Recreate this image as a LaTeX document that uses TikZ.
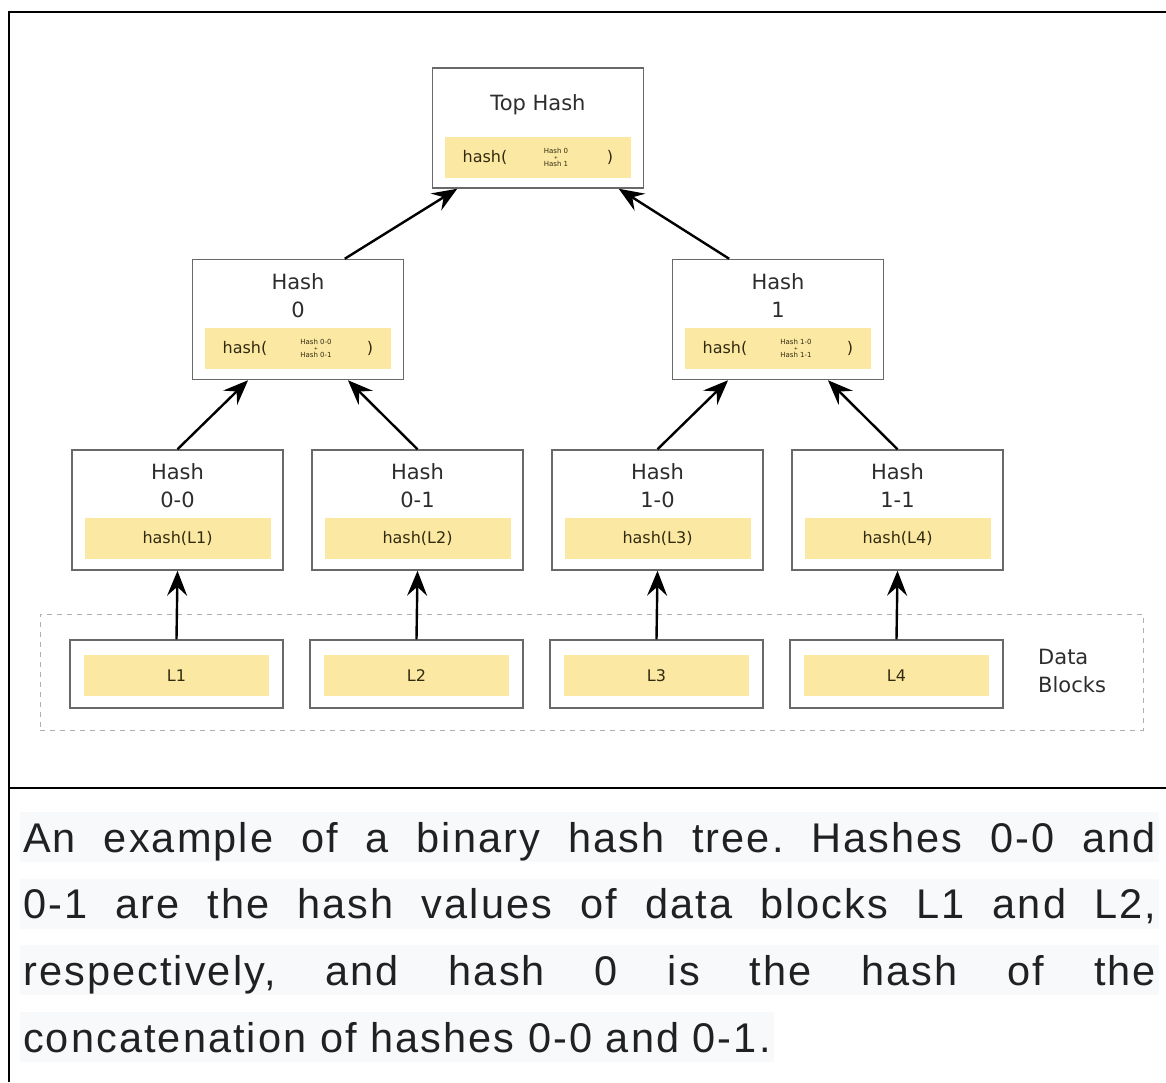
\documentclass[tikz,border=0pt]{standalone}
\usepackage{fontspec}
\usetikzlibrary{arrows.meta,calc}
\newfontfamily\diafont{DejaVu Sans}
\newfontfamily\capfont[LetterSpace=5]{Liberation Sans}
\definecolor{boxline}{RGB}{105,105,105}
\definecolor{hashfill}{RGB}{251,233,163}
\definecolor{hashtext}{RGB}{50,42,15}
\definecolor{labeltext}{RGB}{45,45,45}
\definecolor{captext}{RGB}{32,33,34}
\definecolor{capback}{RGB}{248,249,250}
\definecolor{dashline}{RGB}{175,175,175}
\tikzset{
  hashbox/.style={draw=boxline, line width=1.5pt, fill=white, minimum width=211pt, minimum height=120pt, inner sep=0pt},
  leafbox/.style={hashbox, minimum width=213pt, minimum height=68pt},
  yellowbar/.style={fill=hashfill, minimum width=186pt, minimum height=41pt, inner sep=0pt},
  title/.style={font=\diafont\fontsize{21}{28}\selectfont, text=labeltext, align=center, inner sep=0pt},
  inner/.style={font=\diafont\fontsize{16}{18}\selectfont, text=hashtext, inner sep=0pt},
  tiny/.style={font=\diafont\fontsize{7}{6.5}\selectfont, text=hashtext, align=center, inner sep=0pt},
  link/.style={line width=2.4pt, -{Stealth[length=25pt,width=20pt,inset=9pt]}},
  capline/.style={font=\capfont\fontsize{41.5}{48}\selectfont, text=captext, fill=capback,
    text height=40pt, text depth=10pt, inner ysep=0pt, inner xsep=3pt, anchor=base west},
}
\frenchspacing
\begin{document}
\begin{tikzpicture}[x=1pt, y=-1pt]
\useasboundingbox (0,0) rectangle (1166,1082);

% frame and caption separator
\draw[line width=2.6pt] (9,1082) -- (9,12) -- (1166,12);
\draw[line width=2.6pt] (9,788) -- (1166,788);

% data blocks group
\node[draw=dashline, line width=1pt, dash pattern=on 5pt off 5pt,
      minimum width=1103pt, minimum height=116pt, inner sep=0pt] (blocks) at (591.5,672) {};
\node[title, anchor=west, align=left] (dbl) at (1038,671) {Data\\Blocks};

% tree nodes
\node[hashbox] (top) at (538,128) {};
\node[hashbox] (h0) at (298,319.5) {};
\node[hashbox] (h1) at (778,319.5) {};
\node[hashbox] (h00) at (177.5,510) {};
\node[hashbox] (h01) at (417.5,510) {};
\node[hashbox] (h10) at (657.5,510) {};
\node[hashbox] (h11) at (897.5,510) {};
\node[leafbox] (l1) at (176.5,674) {};
\node[leafbox] (l2) at (416.5,674) {};
\node[leafbox] (l3) at (656.5,674) {};
\node[leafbox] (l4) at (896.5,674) {};

% titles
\node[title] (topt) at ($(top.north)+(0,37)$) {Top Hash};
\node[title] (h0t) at ($(h0.north)+(0,37)$) {Hash\\0};
\node[title] (h1t) at ($(h1.north)+(0,37)$) {Hash\\1};
\node[title] (h00t) at ($(h00.north)+(0,36)$) {Hash\\0-0};
\node[title] (h01t) at ($(h01.north)+(0,36)$) {Hash\\0-1};
\node[title] (h10t) at ($(h10.north)+(0,36)$) {Hash\\1-0};
\node[title] (h11t) at ($(h11.north)+(0,36)$) {Hash\\1-1};

% yellow value bars
\node[yellowbar] (topb) at ($(top.south)+(0,-31.5)$) {};
\node[yellowbar] (h0b) at ($(h0.south)+(0,-32)$) {};
\node[yellowbar] (h1b) at ($(h1.south)+(0,-32)$) {};
\node[yellowbar] (h00b) at ($(h00.south)+(0,-32)$) {};
\node[yellowbar] (h01b) at ($(h01.south)+(0,-32)$) {};
\node[yellowbar] (h10b) at ($(h10.south)+(0,-32)$) {};
\node[yellowbar] (h11b) at ($(h11.south)+(0,-32)$) {};
\node[inner] (h00v) at (h00b) {hash(L1)};
\node[inner] (h01v) at (h01b) {hash(L2)};
\node[inner] (h10v) at (h10b) {hash(L3)};
\node[inner] (h11v) at (h11b) {hash(L4)};
\node[yellowbar, minimum width=185pt] (l1b) at ($(l1)+(0,1.5)$) {};
\node[yellowbar, minimum width=185pt] (l2b) at ($(l2)+(0,1.5)$) {};
\node[yellowbar, minimum width=185pt] (l3b) at ($(l3)+(0,1.5)$) {};
\node[yellowbar, minimum width=185pt] (l4b) at ($(l4)+(0,1.5)$) {};
\node[inner] (l1v) at (l1b) {L1};
\node[inner] (l2v) at (l2b) {L2};
\node[inner] (l3v) at (l3b) {L3};
\node[inner] (l4v) at (l4b) {L4};

% concatenation formulas
\foreach \b/\p/\q in {topb/Hash 0/Hash 1, h0b/Hash 0-0/Hash 0-1, h1b/Hash 1-0/Hash 1-1}{
  \node[inner] (\b o) at ($(\b)+(-53,0)$) {hash(};
  \node[tiny] (\b m) at ($(\b)+(18,0)$) {\p\\{\fontsize{5}{6.5}\selectfont +}\\\q};
  \node[inner] (\b c) at ($(\b)+(72,0)$) {)};
}

% connectors
\draw[link] (l1.north) -- (h00.south);
\draw[link] (l2.north) -- (h01.south);
\draw[link] (l3.north) -- (h10.south);
\draw[link] (l4.north) -- (h11.south);
\draw[link] (h00.north) -- ($(h0.south west)!0.265!(h0.south east)$);
\draw[link] (h01.north) -- ($(h0.south west)!0.735!(h0.south east)$);
\draw[link] (h10.north) -- ($(h1.south west)!0.265!(h1.south east)$);
\draw[link] (h11.north) -- ($(h1.south west)!0.735!(h1.south east)$);
\draw[link] ($(h0.north west)!0.72!(h0.north east)$) -- ($(top.south west)!0.12!(top.south east)$);
\draw[link] ($(h1.north west)!0.27!(h1.north east)$) -- ($(top.south west)!0.88!(top.south east)$);

% caption
\node[capline] (c1) at (20,852) {\makebox[1133pt][s]{An example of a binary hash tree. Hashes 0-0 and}};
\node[capline] (c2) at (20,918.7) {\makebox[1133pt][s]{0-1 are the hash values of data blocks L1 and L2,}};
\node[capline] (c3) at (20,985.3) {\makebox[1133pt][s]{respectively, and hash 0 is the hash of the}};
\node[capline] (c4) at (20,1052) {concatenation of hashes 0-0 and 0-1.};
\end{tikzpicture}
\end{document}
